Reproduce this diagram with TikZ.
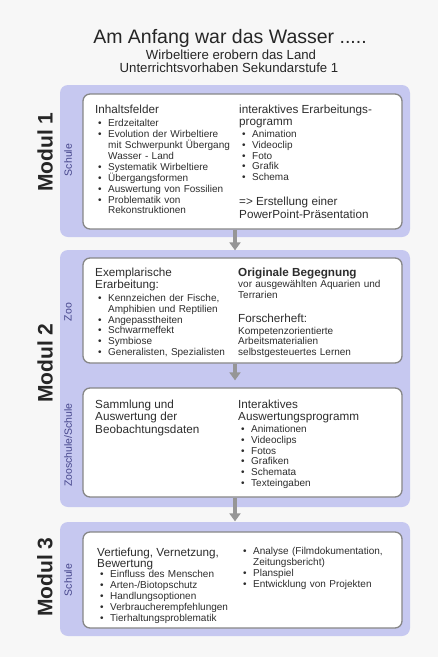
\documentclass[tikz,border=0pt]{standalone}
\usepackage{fontspec}
\setmainfont{Liberation Sans}
\usetikzlibrary{arrows.meta}
\definecolor{bggray}{RGB}{247,247,247}
\definecolor{panelblue}{RGB}{198,200,240}
\definecolor{boxgray}{RGB}{135,135,135}
\definecolor{arrowgray}{RGB}{150,150,150}
\definecolor{textgray}{RGB}{45,45,45}
\definecolor{labblue}{RGB}{70,70,140}
\newcommand{\hd}{\fontsize{11.7}{12.5}\selectfont}
\newcommand{\sm}{\fontsize{10}{10.9}\selectfont}
\newcommand{\itm}[1]{\par\hangindent=13pt\hangafter=1\noindent\hspace*{3pt}\makebox[10pt][l]{\textbullet}#1}
\tikzset{
  panel/.style={fill=panelblue,rounded corners=8pt,inner sep=0pt},
  wbox/.style={draw=boxgray,fill=white,line width=1.3pt,rounded corners=7pt,inner sep=0pt,minimum width=319pt},
  col/.style={anchor=north west,inner sep=0pt,align=left,text=textgray,font=\sm},
  modul/.style={rotate=90,font=\fontsize{21}{24}\selectfont\bfseries,text=black!85},
  place/.style={rotate=90,font=\fontsize{10.5}{12}\selectfont,text=labblue},
  flow/.style={-{Triangle[width=11pt,length=8pt]},line width=3.5pt,draw=arrowgray,shorten >=7pt}
}
\begin{document}
\begin{tikzpicture}[x=1pt,y=-1pt]
    \fill[bggray] (0,0) rectangle (438,657);
    \useasboundingbox (0,0) rectangle (438,657);

    \node[font=\fontsize{19.5}{22}\selectfont,text=black!85] (title) at (230,38) {Am Anfang war das Wasser .....};
    \node[font=\fontsize{13.2}{15}\selectfont,text=black!85] (sub1) at (231,55) {Wirbeltiere erobern das Land};
    \node[font=\fontsize{13.2}{15}\selectfont,text=black!85] (sub2) at (229,68) {Unterrichtsvorhaben Sekundarstufe 1};

    \node[panel,minimum width=350pt,minimum height=152pt] (p1) at (235,161) {};
    \node[panel,minimum width=350pt,minimum height=257pt] (p2) at (235,378.5) {};
    \node[panel,minimum width=350pt,minimum height=114pt] (p3) at (235,579) {};

    \node[wbox,minimum height=135pt] (b1) at (242.5,161.5) {};
    \node[wbox,minimum height=105pt] (b2a) at (242.5,310.5) {};
    \node[wbox,minimum height=109pt] (b2b) at (242.5,442.5) {};
    \node[wbox,minimum height=96pt] (b3) at (242.5,580) {};

    \draw[flow] (b1.south -| p1) -- (b2a.north -| p1);
    \draw[flow] (b2a.south -| p1) -- (b2b.north -| p1);
    \draw[flow,shorten >=10pt] (b2b.south -| p1) -- (b3.north -| p1);

    \node[modul] (mod1) at (45,152) {Modul 1};
    \node[modul] (mod2) at (45,363) {Modul 2};
    \node[modul] (mod3) at (45,577) {Modul 3};
    \node[place] (pl1) at (68,160) {Schule};
    \node[place] (pl2a) at (68,312) {Zoo};
    \node[place] (pl2b) at (68,445) {Zooschule/Schule};
    \node[place] (pl3) at (68,580) {Schule};

    \node[col,text width=140pt] (m1left) at (95,104.7) {{\hd Inhaltsfelder\par}\vspace{2.5pt}%
      \itm{Erdzeitalter}\itm{Evolution der Wirbeltiere\newline mit Schwerpunkt Übergang\newline Wasser - Land}%
      \itm{Systematik Wirbeltiere}\itm{Übergangsformen}\itm{Auswertung von Fossilien}%
      \itm{Problematik von\newline Rekonstruktionen}\par};
    \node[col,text width=160pt] (m1right) at (239,104.7) {{\hd interaktives Erarbeitungs-\newline programm\par}\vspace{0.5pt}%
      \itm{Animation}\itm{Videoclip}\itm{Foto}\itm{Grafik}\itm{Schema}\par\vspace{12.5pt}%
      {\hd => Erstellung einer\newline PowerPoint-Präsentation\par}};

    \node[col,text width=140pt] (m2left) at (95,267.7) {{\hd Exemplarische\newline Erarbeitung:\par}\vspace{1.5pt}%
      \itm{Kennzeichen der Fische,\newline Amphibien und Reptilien}\itm{Angepasstheiten}%
      \itm{Schwarmeffekt}\itm{Symbiose}\itm{Generalisten, Spezialisten}\par};
    \node[col,text width=160pt] (m2right) at (238,267.7) {{\hd\bfseries Originale Begegnung\par}%
      vor ausgewählten Aquarien und\newline Terrarien\par\vspace{12pt}%
      {\hd Forscherheft:\par}\vspace{0.5pt}%
      Kompetenzorientierte\newline Arbeitsmaterialien\newline selbstgesteuertes Lernen\par};

    \node[col,text width=140pt] (m2bleft) at (95,399.7) {{\hd Sammlung und\newline Auswertung der\newline Beobachtungsdaten\par}};
    \node[col,text width=160pt] (m2bright) at (238,399.7) {{\hd Interaktives\newline Auswertungsprogramm\par}\vspace{0.5pt}%
      \itm{Animationen}\itm{Videoclips}\itm{Fotos}\itm{Grafiken}\itm{Schemata}\itm{Texteingaben}\par};

    \node[col,text width=140pt] (m3left) at (97,547.7) {{\fontsize{11.7}{11.2}\selectfont Vertiefung, Vernetzung,\newline Bewertung\par}\vspace{-1pt}%
      \itm{Einfluss des Menschen}\itm{Arten-/Biotopschutz}\itm{Handlungsoptionen}%
      \itm{Verbraucherempfehlungen}\itm{Tierhaltungsproblematik}\par};
    \node[col,text width=160pt] (m3right) at (240,543.3) {\itm{Analyse (Filmdokumentation,\newline Zeitungsbericht)}%
      \itm{Planspiel}\itm{Entwicklung von Projekten}\par};
\end{tikzpicture}
\end{document}
